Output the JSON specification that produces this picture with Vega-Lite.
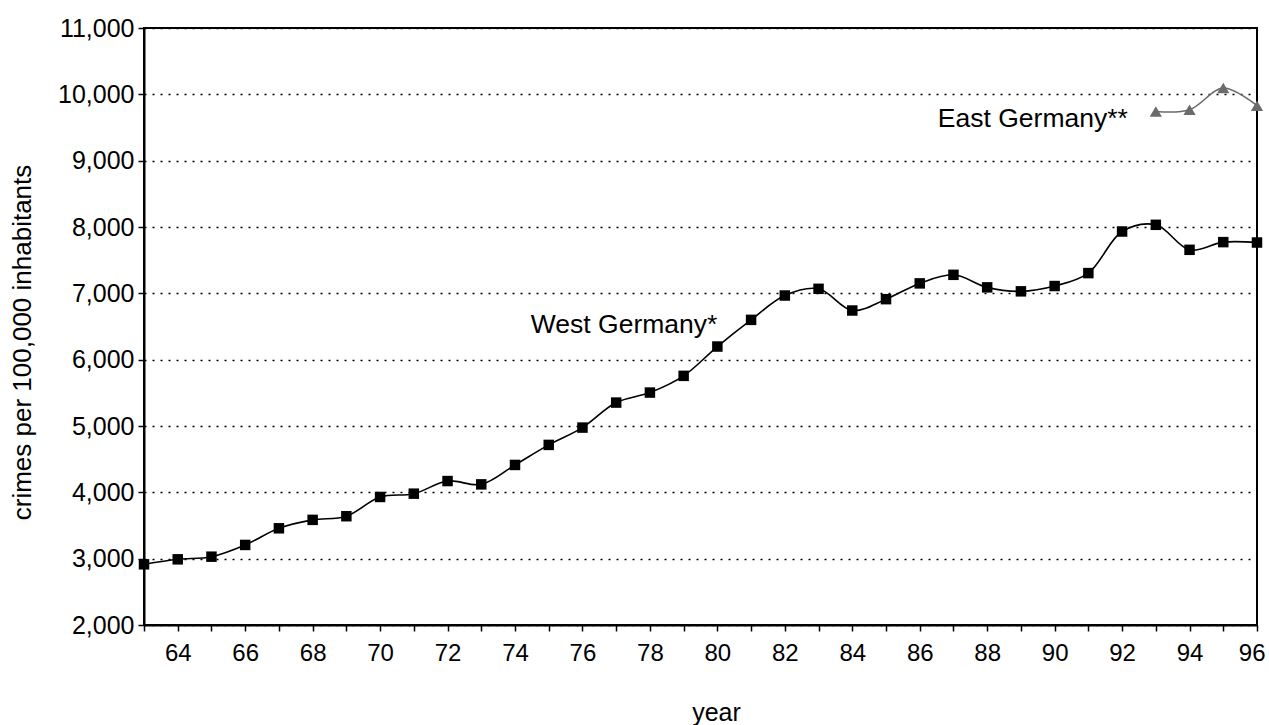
{
  "$schema": "https://vega.github.io/schema/vega-lite/v6.json",
  "width": 1113,
  "height": 597,
  "autosize": {"type": "none"},
  "padding": {"left": 144, "top": 28, "right": 12, "bottom": 100},
  "background": "white",
  "config": {
    "font": "Liberation Sans",
    "view": {"stroke": "black", "strokeWidth": 2},
    "axis": {
      "labelColor": "black",
      "titleColor": "black",
      "titleFontWeight": "normal",
      "domainColor": "black",
      "domainWidth": 2,
      "tickColor": "black",
      "tickWidth": 1.5
    }
  },
  "datasets": {
    "crime": [
      {"year": 63, "value": 2915, "series": "West Germany*"},
      {"year": 64, "value": 2990, "series": "West Germany*"},
      {"year": 65, "value": 3030, "series": "West Germany*"},
      {"year": 66, "value": 3207, "series": "West Germany*"},
      {"year": 67, "value": 3458, "series": "West Germany*"},
      {"year": 68, "value": 3585, "series": "West Germany*"},
      {"year": 69, "value": 3640, "series": "West Germany*"},
      {"year": 70, "value": 3930, "series": "West Germany*"},
      {"year": 71, "value": 3980, "series": "West Germany*"},
      {"year": 72, "value": 4170, "series": "West Germany*"},
      {"year": 73, "value": 4120, "series": "West Germany*"},
      {"year": 74, "value": 4413, "series": "West Germany*"},
      {"year": 75, "value": 4715, "series": "West Germany*"},
      {"year": 76, "value": 4976, "series": "West Germany*"},
      {"year": 77, "value": 5353, "series": "West Germany*"},
      {"year": 78, "value": 5504, "series": "West Germany*"},
      {"year": 79, "value": 5756, "series": "West Germany*"},
      {"year": 80, "value": 6198, "series": "West Germany*"},
      {"year": 81, "value": 6600, "series": "West Germany*"},
      {"year": 82, "value": 6967, "series": "West Germany*"},
      {"year": 83, "value": 7068, "series": "West Germany*"},
      {"year": 84, "value": 6741, "series": "West Germany*"},
      {"year": 85, "value": 6912, "series": "West Germany*"},
      {"year": 86, "value": 7150, "series": "West Germany*"},
      {"year": 87, "value": 7279, "series": "West Germany*"},
      {"year": 88, "value": 7090, "series": "West Germany*"},
      {"year": 89, "value": 7030, "series": "West Germany*"},
      {"year": 90, "value": 7110, "series": "West Germany*"},
      {"year": 91, "value": 7305, "series": "West Germany*"},
      {"year": 92, "value": 7932, "series": "West Germany*"},
      {"year": 93, "value": 8033, "series": "West Germany*"},
      {"year": 94, "value": 7656, "series": "West Germany*"},
      {"year": 95, "value": 7772, "series": "West Germany*"},
      {"year": 96, "value": 7766, "series": "West Germany*"},
      {"year": 93, "value": 9742, "series": "East Germany**"},
      {"year": 94, "value": 9768, "series": "East Germany**"},
      {"year": 95, "value": 10095, "series": "East Germany**"},
      {"year": 96, "value": 9828, "series": "East Germany**"}
    ],
    "labels": [
      {"year": 80, "value": 6404, "label": "West Germany*"},
      {"year": 92.17, "value": 9511, "label": "East Germany**"}
    ]
  },
  "layer": [
    {
      "data": {"name": "crime"},
      "mark": {"type": "line", "interpolate": "catmull-rom", "strokeWidth": 1.6},
      "encoding": {
        "x": {
          "field": "year", "type": "quantitative",
          "scale": {"domain": [63, 96], "nice": false, "zero": false},
          "axis": {
            "values": [63,64,65,66,67,68,69,70,71,72,73,74,75,76,77,78,79,80,81,82,83,84,85,86,87,88,89,90,91,92,93,94,95,96],
            "tickCount": 100,
            "labelExpr": "(round(datum.value) % 2 === 0) ? format(datum.value, 'd') : ''",
            "grid": false,
            "tickSize": 6,
            "labelFontSize": 24,
            "labelPadding": 10,
            "labelOverlap": false,
            "labelFlush": true,
            "labelFlushOffset": 8,
            "title": "year",
            "titleFontSize": 25,
            "titleX": 572,
            "titleY": 95,
            "titleAlign": "center",
            "titleBaseline": "alphabetic"
          }
        },
        "y": {
          "field": "value", "type": "quantitative",
          "scale": {"domain": [2000, 11000], "nice": false, "zero": false},
          "axis": {
            "values": [2000,3000,4000,5000,6000,7000,8000,9000,10000,11000],
            "tickCount": 20,
            "format": ",d",
            "grid": true,
            "gridColor": "black",
            "gridDash": [2, 6],
            "gridWidth": 1.5,
            "gridOpacity": 1,
            "tickSize": 6,
            "labelFontSize": 25,
            "labelPadding": 4,
            "labelFlush": false,
            "labelOverlap": false,
            "title": "crimes per 100,000 inhabitants",
            "titleFontSize": 26,
            "titleAngle": -90,
            "titleX": -114,
            "titleY": 314,
            "titleAlign": "center",
            "titleBaseline": "alphabetic"
          }
        },
        "color": {
          "field": "series", "type": "nominal",
          "scale": {"domain": ["West Germany*", "East Germany**"], "range": ["#000000", "#6b6b6b"]},
          "legend": null
        }
      }
    },
    {
      "data": {"name": "crime"},
      "mark": {"type": "point", "filled": true, "opacity": 1},
      "encoding": {
        "x": {"field": "year", "type": "quantitative"},
        "y": {"field": "value", "type": "quantitative"},
        "color": {"field": "series", "type": "nominal", "legend": null},
        "shape": {
          "field": "series", "type": "nominal",
          "scale": {"domain": ["West Germany*", "East Germany**"], "range": ["square", "triangle-up"]},
          "legend": null
        },
        "size": {
          "field": "series", "type": "nominal",
          "scale": {"domain": ["West Germany*", "East Germany**"], "range": [110, 150]},
          "legend": null
        }
      }
    },
    {
      "data": {"name": "labels"},
      "mark": {"type": "text", "align": "right", "baseline": "alphabetic", "fontSize": 26.5, "color": "black"},
      "encoding": {
        "x": {"field": "year", "type": "quantitative"},
        "y": {"field": "value", "type": "quantitative"},
        "text": {"field": "label"}
      }
    }
  ]
}
